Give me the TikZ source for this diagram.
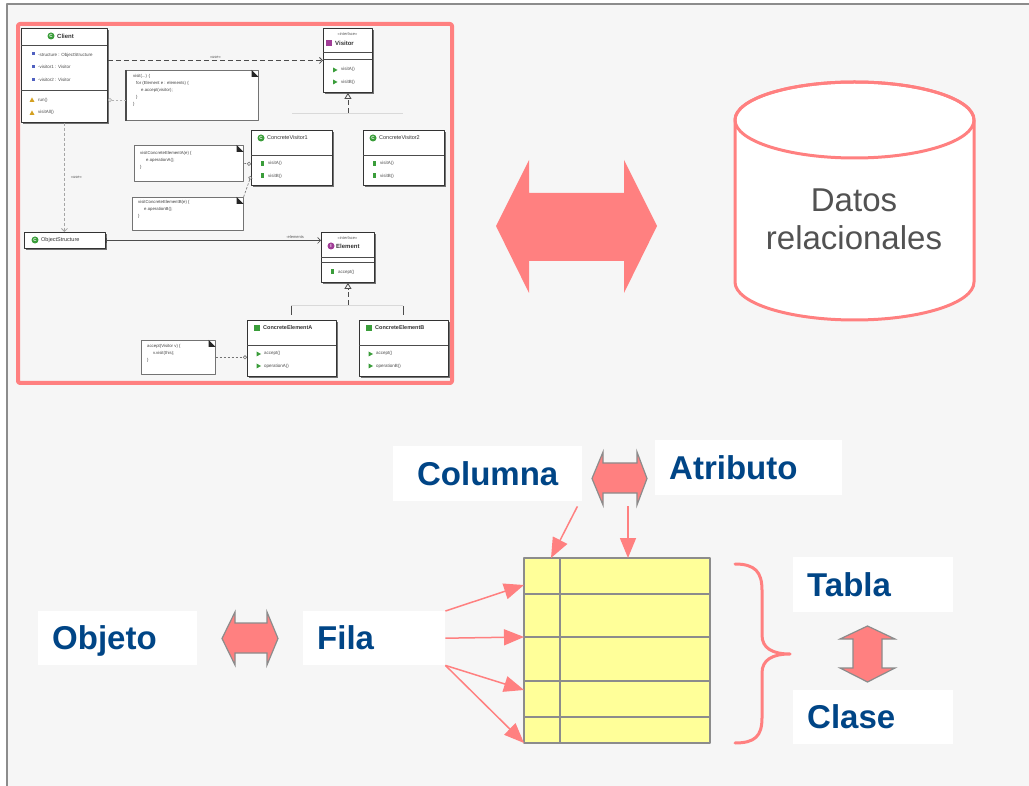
\documentclass[tikz,border=0pt]{standalone}
\usepackage{fontspec}
\setmainfont{Liberation Sans}
\usetikzlibrary{arrows.meta,calc,shadows}
\definecolor{bgcol}{HTML}{F6F6F6}
\definecolor{pinkc}{HTML}{FF8080}
\definecolor{lblblue}{HTML}{004586}
\definecolor{cellyel}{HTML}{FFFF99}
\definecolor{cellgray}{HTML}{8C8C8C}
\definecolor{icgreen}{HTML}{3A9D3A}
\definecolor{icpurple}{HTML}{A03C96}
\definecolor{attrblue}{HTML}{5060C0}
\definecolor{opyellow}{HTML}{D4A020}
\tikzset{
  lbl/.style={fill=white,font=\bfseries\fontsize{33}{36}\selectfont,text=lblblue,
    text height=23.5pt,text depth=0pt,inner xsep=14pt,inner ysep=0pt,align=left,anchor=north west},
  sdbl/.style={fill=pinkc,draw=black!45,line width=1.2pt,line join=miter},
  maparrow/.style={draw=pinkc,line width=1.5pt,-{Triangle[length=20pt,width=16pt]}},
  umlbox/.style={draw=black!80,line width=0.9pt,fill=white,inner sep=0pt,anchor=north west,
    drop shadow={shadow xshift=1.2pt,shadow yshift=-1.2pt,fill=black!55,opacity=1}},
  umlsep/.style={draw=black!70,line width=0.6pt},
  note/.style={draw=black!55,line width=0.6pt,fill=white,inner sep=0pt,anchor=north west},
  umltitle/.style={font=\bfseries\fontsize{6}{7}\selectfont,text=black!80,inner sep=0pt,anchor=west},
  umltext/.style={font=\fontsize{4.5}{12.5}\selectfont,text=black!70,inner sep=0pt,anchor=west},
  notetext/.style={font=\fontsize{4.3}{7}\selectfont,text=black!75,inner sep=0pt,anchor=north west,align=left},
  umlstereo/.style={font=\fontsize{4}{5}\selectfont,text=black!65,inner sep=0pt},
  cicon/.style={circle,fill=icgreen,inner sep=0pt,minimum size=7pt,text=white,font=\bfseries\fontsize{4.5}{5}\selectfont},
  umllink/.style={draw=black!55,line width=0.6pt,dash pattern=on 2.5pt off 1.5pt,-{Circle[open,length=4pt]}},
  umldash/.style={draw=black!70,line width=0.8pt,dash pattern=on 5pt off 3pt},
}

\begin{document}
\begin{tikzpicture}[x=1pt,y=-1pt,line join=round]
\useasboundingbox (0,0) rectangle (1029,786);
\fill[white] (0,0) rectangle (1029,786);
\fill[bgcol] (7,4) rectangle (1029,786);
\draw[black!45,line width=1.5] (7,786) -- (7,4) -- (1029,4);

% --- class diagram thumbnail
\draw[pinkc,line width=4,rounded corners=2] (18,24) rectangle (452,383);

\node[umlbox,minimum width=86,minimum height=94] (client) at (21,28) {};
\draw[umlsep] (21,45) -- (107,45) (21,90) -- (107,90);
\node[cicon] (client-ic) at (51,36) {C};
\node[umltitle] (client-tt) at (57,36) {Client};
\foreach \y in {54,67,80} \fill[attrblue] (31.5,\y-1.5) rectangle +(3,3);
\node[umltext,align=left] (client-at) at (38,67) {-structure : ObjectStructure\\-visitor1 : Visitor\\-visitor2 : Visitor};
\foreach \y in {100,113} \fill[opyellow] (29.5,\y+2) -- (34.5,\y+2) -- (32,\y-2.5) -- cycle;
\node[umltext,align=left] (client-op) at (38,106.5) {run()\\visitAll()};

\node[umlbox,minimum width=49,minimum height=64] (visitor) at (323,28) {};
\draw[umlsep] (323,52) -- (372,52) (323,59) -- (372,59);
\node[umlstereo] (visitor-st) at (347.5,34) {«interface»};
\fill[icpurple] (326,40) rectangle (332,46);
\node[umltitle] (visitor-tt) at (335,43) {Visitor};
\foreach \y in {70,82} \fill[icgreen] (333,\y-2.5) -- (337.5,\y) -- (333,\y+2.5) -- cycle;
\node[umltext,align=left] (visitor-op) at (341,76) {visitA()\\visitB()};

\foreach \dx/\n/\t in {0/cv1/ConcreteVisitor1,112/cv2/ConcreteVisitor2}{
  \node[umlbox,minimum width=81,minimum height=55] (\n) at (251+\dx,130) {};
  \draw[umlsep] (251+\dx,155) -- (332+\dx,155);
  \node[cicon] (\n-ic) at (261+\dx,138) {C};
  \node[umltitle,font=\fontsize{5.5}{7}\selectfont] (\n-tt) at (267+\dx,138) {\t};
  \foreach \y in {164,176} \fill[icgreen] (260.5+\dx,\y-2.5) rectangle +(3,5);
  \node[umltext,align=left] (\n-op) at (268+\dx,170) {visitA()\\visitB()};
}

\node[umlbox,minimum width=81,minimum height=16] (objstruct) at (24,232) {};
\node[cicon] (objstruct-ic) at (35,240) {C};
\node[umltitle,font=\fontsize{5.5}{7}\selectfont] (objstruct-tt) at (41,240) {ObjectStructure};

\node[umlbox,minimum width=53,minimum height=50] (element) at (321,232) {};
\draw[umlsep] (321,257) -- (374,257) (321,262) -- (374,262);
\node[umlstereo] (element-st) at (347.5,238) {«interface»};
\node[cicon,fill=icpurple] (element-ic) at (331,246) {I};
\node[umltitle] (element-tt) at (336,246) {Element};
\fill[icgreen] (330.5,269.5) rectangle +(3,5);
\node[umltext] (element-op) at (338,272) {accept()};

\foreach \dx/\n/\t/\o in {0/cea/ConcreteElementA/operationA(),112/ceb/ConcreteElementB/operationB()}{
  \node[umlbox,minimum width=89,minimum height=56] (\n) at (247+\dx,320) {};
  \draw[umlsep] (247+\dx,345) -- (336+\dx,345);
  \fill[icgreen] (254+\dx,325) rectangle +(6,6);
  \node[umltitle,font=\bfseries\fontsize{5.5}{7}\selectfont] (\n-tt) at (263+\dx,328) {\t};
  \foreach \y in {354,366} \fill[icgreen] (256.5+\dx,\y-2.5) -- (261+\dx,\y) -- (256.5+\dx,\y+2.5) -- cycle;
  \node[umltext,align=left] (\n-op) at (264+\dx,360) {accept()\\\o};
}

% notes
\node[note,minimum width=132,minimum height=50] (note1) at (126,70) {};
\draw[black!70,line width=1.6] (note1.north west) -- (note1.south west);
\node[notetext] (note1-tx) at (133,74) {visit(...) \{\\\hspace*{3pt}for (Element e : elements) \{\\\hspace*{8pt}e.accept(visitor);\\\hspace*{3pt}\}\\\}};
\node[note,minimum width=109,minimum height=36] (note2) at (134,145) {};
\node[notetext] (note2-tx) at (140,151) {visitConcreteElementA(e) \{\\\hspace*{6pt}e.operationA();\\\}};
\node[note,minimum width=111,minimum height=33] (note3) at (132,197) {};
\node[notetext] (note3-tx) at (138,200) {visitConcreteElementB(e) \{\\\hspace*{6pt}e.operationB();\\\}};
\node[note,minimum width=74,minimum height=34] (note4) at (141,340) {};
\node[notetext] (note4-tx) at (147,344) {accept(Visitor v) \{\\\hspace*{6pt}v.visit(this);\\\}};
\foreach \n in {note1,note2,note3,note4}
  \fill[black!85] (\n.north east) ++(-7,0) -- ++(7,7) -- ++(-7,0) -- cycle;

% links and relations
\draw[umllink,draw=black!30] (note1.west |- 0,100) -- (client.east |- 0,100);
\draw[umllink] (note2.east) -- (cv1.west |- 0,164);
\draw[umllink] (note3.north east) -- (cv1.west |- 0,176);
\draw[umllink] (note4.east) -- (cea.west |- note4.east);
\draw[umldash,-{Straight Barb[length=3pt]}] (client.east |- visitor.west) -- (visitor.west)
  node[midway,above=1.5pt,umlstereo] (use1) {«use»};
\draw[umldash,draw=black!35,dash pattern=on 3pt off 2pt,-{Straight Barb[length=3pt]}] (client.south) -- (client.south |- objstruct.north)
  node[midway,right=6pt,umlstereo] (use2) {«use»};
\draw[umlsep,{Bar[width=5pt]}-{Straight Barb[length=3pt]}] (objstruct.east) -- (objstruct.east -| element.west)
  node[pos=0.88,above=2pt,umlstereo] (elems) {-elements};
\draw[umldash,-{Triangle[open,length=6pt,width=7pt]}] (visitor.south |- 0,113) -- (visitor.south);
\draw[black!15,line width=0.6] (292,113) -- (403,113);
\draw[umldash,-{Triangle[open,length=6pt,width=7pt]}] (element.south |- 0,305) -- (element.south);
\draw[black!15,line width=0.6] (291,305) -- (403,305);
\draw[umlsep,line width=1] (291,306) -- (291,315) (403,306) -- (403,315);

% --- big double arrow and database
\fill[pinkc] (496,226) -- (529,160) -- (529,193) -- (624,193) -- (624,160) -- (657,226)
  -- (624,293) -- (624,261) -- (529,261) -- (529,293) -- cycle;
\draw[pinkc,line width=3,fill=white] (735,120) -- (735,282)
  arc[start angle=180,end angle=0,x radius=119.5,y radius=38] -- (974,120)
  arc[start angle=0,end angle=-180,x radius=119.5,y radius=38] -- cycle;
\draw[pinkc,line width=3] (854.5,120) ellipse [x radius=119.5,y radius=38];
\node[font=\fontsize{33}{38}\selectfont,text=black!68,align=center] (datos) at (854,219) {Datos\\relacionales};

% --- table and mapping
\filldraw[fill=cellyel,draw=cellgray,line width=1.5] (524,558) rectangle (710,743);
\draw[cellgray,line width=1.5] (560,558) -- (560,743);
\foreach \y in {594,637,681,717} \draw[cellgray,line width=1.5] (524,\y) -- (710,\y);
\coordinate (colhead) at (551,558);
\coordinate (atrhead) at (628,558);
\coordinate (atrfoot) at (628,506);
\coordinate (row1) at (524,585);
\coordinate (row2) at (524,637);
\coordinate (row3) at (524,690);
\coordinate (row4) at (524,743);

\node[lbl,text width=161,minimum height=55,align=center] (columna) at (393,446) {Columna};
\node[lbl,text width=159,minimum height=55] (atributo) at (655,440) {Atributo};
\node[lbl,text width=131,minimum height=54] (objeto) at (38,611) {Objeto};
\node[lbl,text width=114,minimum height=54] (fila) at (303,611) {Fila};
\node[lbl,text width=132,minimum height=55] (tabla) at (793,557) {Tabla};
\node[lbl,text width=132,minimum height=54] (clase) at (793,690) {Clase};

\draw[sdbl] (592,478.5) -- (603,452) -- (603,463) -- (637,463) -- (637,452) -- (647,478.5)
  -- (637,505) -- (637,493) -- (603,493) -- (603,505) -- cycle;
\draw[sdbl] (222,638.5) -- (235,612) -- (235,623) -- (267,623) -- (267,612) -- (278,638.5)
  -- (267,665) -- (267,653) -- (235,653) -- (235,665) -- cycle;
\draw[sdbl] (867.5,626) -- (895,639) -- (882,639) -- (882,668) -- (895,668) -- (867.5,682)
  -- (840,668) -- (853,668) -- (853,639) -- (840,639) -- cycle;

\draw[maparrow] ($(columna.south east)+(-5,5)$) -- (colhead);
\draw[maparrow] (atrfoot) -- (atrhead);
\draw[maparrow] (fila.north east) -- (row1);
\draw[maparrow] (fila.east) -- (row2);
\draw[maparrow] (fila.south east) -- (row3);
\draw[maparrow] (fila.south east) -- (row4);

\draw[pinkc,line width=3,line cap=round] (735,564) .. controls (755,564) and (762,572) .. (762,590)
  -- (762,635) .. controls (762,648) and (772,654) .. (790,654)
  .. controls (772,654) and (762,660) .. (762,673) -- (762,718)
  .. controls (762,736) and (755,743) .. (735,743);
\end{tikzpicture}
\end{document}
